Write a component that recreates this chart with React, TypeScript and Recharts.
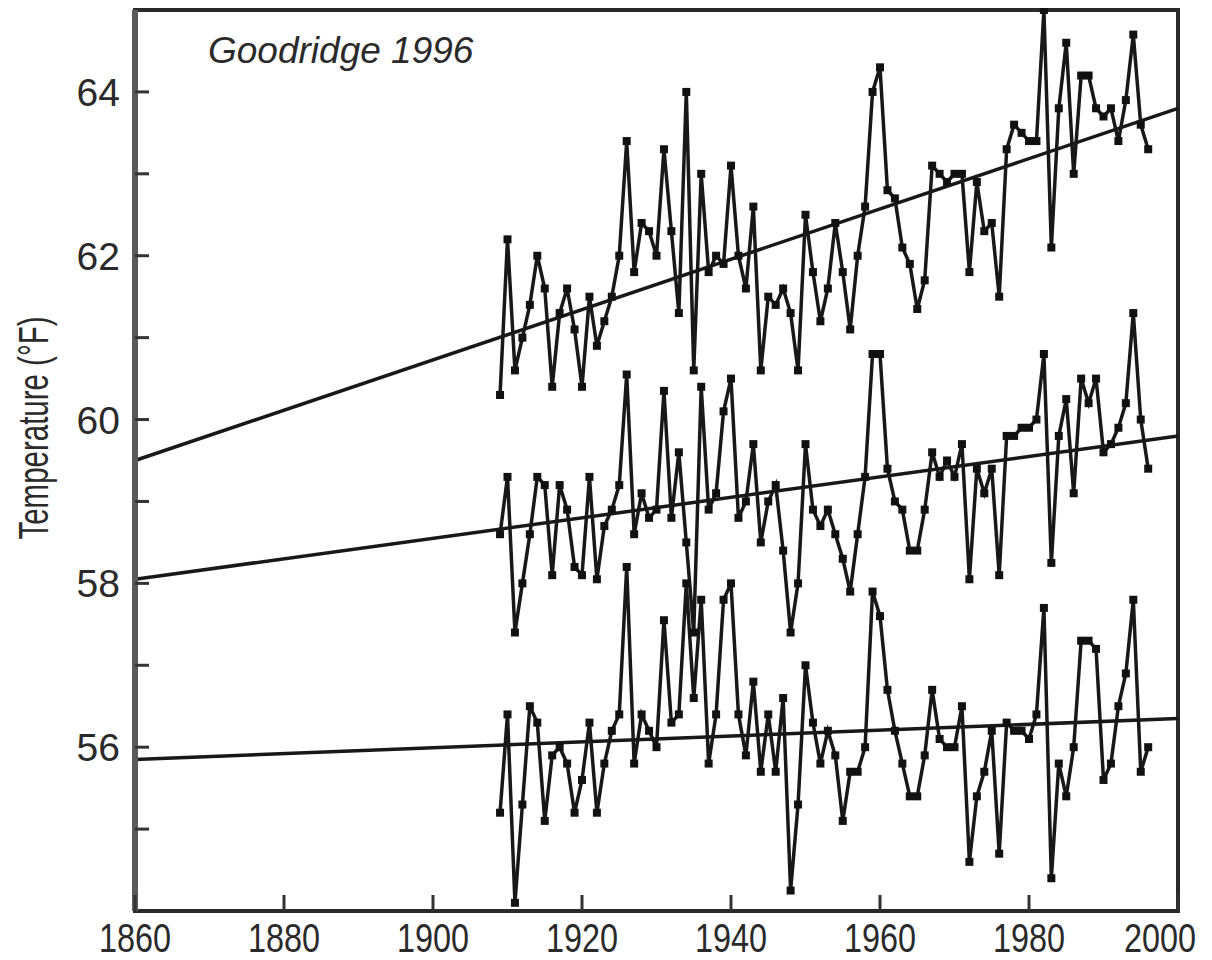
import { LineChart, Line, XAxis, YAxis, ReferenceArea } from "recharts"

const years = [
  1909, 1910, 1911, 1912, 1913, 1914, 1915, 1916, 1917, 1918,
  1919, 1920, 1921, 1922, 1923, 1924, 1925, 1926, 1927, 1928,
  1929, 1930, 1931, 1932, 1933, 1934, 1935, 1936, 1937, 1938,
  1939, 1940, 1941, 1942, 1943, 1944, 1945, 1946, 1947, 1948,
  1949, 1950, 1951, 1952, 1953, 1954, 1955, 1956, 1957, 1958,
  1959, 1960, 1961, 1962, 1963, 1964, 1965, 1966, 1967, 1968,
  1969, 1970, 1971, 1972, 1973, 1974, 1975, 1976, 1977, 1978,
  1979, 1980, 1981, 1982, 1983, 1984, 1985, 1986, 1987, 1988,
  1989, 1990, 1991, 1992, 1993, 1994, 1995, 1996,
]

const upperTemps = [
  60.3, 62.2, 60.6, 61.0, 61.4, 62.0, 61.6, 60.4, 61.3, 61.6,
  61.1, 60.4, 61.5, 60.9, 61.2, 61.5, 62.0, 63.4, 61.8, 62.4,
  62.3, 62.0, 63.3, 62.3, 61.3, 64.0, 60.6, 63.0, 61.8, 62.0,
  61.9, 63.1, 62.0, 61.6, 62.6, 60.6, 61.5, 61.4, 61.6, 61.3,
  60.6, 62.5, 61.8, 61.2, 61.6, 62.4, 61.8, 61.1, 62.0, 62.6,
  64.0, 64.3, 62.8, 62.7, 62.1, 61.9, 61.35, 61.7, 63.1, 63.0,
  62.9, 63.0, 63.0, 61.8, 62.9, 62.3, 62.4, 61.5, 63.3, 63.6,
  63.5, 63.4, 63.4, 65.0, 62.1, 63.8, 64.6, 63.0, 64.2, 64.2,
  63.8, 63.7, 63.8, 63.4, 63.9, 64.7, 63.6, 63.3,
]

const middleTemps = [
  58.6, 59.3, 57.4, 58.0, 58.6, 59.3, 59.2, 58.1, 59.2, 58.9,
  58.2, 58.1, 59.3, 58.05, 58.7, 58.9, 59.2, 60.55, 58.6, 59.1,
  58.8, 58.9, 60.35, 58.8, 59.6, 58.5, 57.4, 60.4, 58.9, 59.1,
  60.1, 60.5, 58.8, 59.0, 59.7, 58.5, 59.0, 59.2, 58.4, 57.4,
  58.0, 59.7, 58.9, 58.7, 58.9, 58.6, 58.3, 57.9, 58.6, 59.3,
  60.8, 60.8, 59.4, 59.0, 58.9, 58.4, 58.4, 58.9, 59.6, 59.3,
  59.5, 59.3, 59.7, 58.05, 59.4, 59.1, 59.4, 58.1, 59.8, 59.8,
  59.9, 59.9, 60.0, 60.8, 58.25, 59.8, 60.25, 59.1, 60.5, 60.2,
  60.5, 59.6, 59.7, 59.9, 60.2, 61.3, 60.0, 59.4,
]

const lowerTemps = [
  55.2, 56.4, 54.1, 55.3, 56.5, 56.3, 55.1, 55.9, 56.0, 55.8,
  55.2, 55.6, 56.3, 55.2, 55.8, 56.2, 56.4, 58.2, 55.8, 56.4,
  56.2, 56.0, 57.55, 56.3, 56.4, 58.0, 56.6, 57.8, 55.8, 56.4,
  57.8, 58.0, 56.4, 55.9, 56.8, 55.7, 56.4, 55.7, 56.6, 54.25,
  55.3, 57.0, 56.3, 55.8, 56.2, 55.9, 55.1, 55.7, 55.7, 56.0,
  57.9, 57.6, 56.7, 56.2, 55.8, 55.4, 55.4, 55.9, 56.7, 56.1,
  56.0, 56.0, 56.5, 54.6, 55.4, 55.7, 56.2, 54.7, 56.3, 56.2,
  56.2, 56.1, 56.4, 57.7, 54.4, 55.8, 55.4, 56.0, 57.3, 57.3,
  57.2, 55.6, 55.8, 56.5, 56.9, 57.8, 55.7, 56.0,
]

// straight fitted trends, drawn across the full time axis
const trendYears = [1860, 2000]
const upperTrend = [59.5, 63.8]
const middleTrend = [58.05, 59.8]
const lowerTrend = [55.85, 56.35]

const xTicks = [1860, 1880, 1900, 1920, 1940, 1960, 1980, 2000]
const yTicks = [55, 56, 57, 58, 59, 60, 61, 62, 63, 64]

const rows = years.map((year, i) => ({
  year,
  upper: upperTemps[i],
  middle: middleTemps[i],
  lower: lowerTemps[i],
}))

const trendRows = trendYears.map((year, i) => ({
  year,
  upper: upperTrend[i],
  middle: middleTrend[i],
  lower: lowerTrend[i],
}))

const ink = "#181818"
const sans = "'Liberation Sans', Arial, sans-serif"

const SquareDot = (props: any) => {
  const { cx, cy, index } = props
  if (cx == null || cy == null) return null
  return <rect key={index} x={cx - 4} y={cy - 4} width={8} height={8} fill="#111" />
}

const XTick = ({ x, y, payload }: any) => {
  // keep the last year label inside the right edge
  const isLast = payload.value === xTicks[xTicks.length - 1]
  return (
    <g>
      <line x1={x} x2={x} y1={y} y2={y - 16} stroke="#333" strokeWidth={3} />
      <text
        x={isLast ? x + 18 : x}
        y={y + 41}
        textAnchor={isLast ? "end" : "middle"}
        fontFamily={sans}
        fontSize={40}
        textLength={72}
        lengthAdjust="spacingAndGlyphs"
        fill="#2a2a2a"
      >
        {payload.value}
      </text>
    </g>
  )
}

const YTick = ({ x, y, payload }: any) => (
  <g>
    <line x1={x} x2={x + 14} y1={y} y2={y} stroke="#333" strokeWidth={3} />
    {payload.value % 2 === 0 && (
      <text
        x={x - 15}
        y={y + 14}
        textAnchor="end"
        fontFamily={sans}
        fontSize={39}
        fill="#2a2a2a"
      >
        {payload.value}
      </text>
    )}
  </g>
)

const YLabel = () => (
  <text
    x={40}
    y={420}
    transform="rotate(-90 40 420)"
    textAnchor="middle"
    fontFamily={sans}
    fontSize={43}
    textLength={223}
    lengthAdjust="spacingAndGlyphs"
    fill="#2a2a2a"
  >
    Temperature (°F)
  </text>
)

export default function App() {
  return (
    <LineChart
      width={1204}
      height={952}
      data={rows}
      margin={{ top: 2, right: 34, bottom: 0, left: 0 }}
    >
      <XAxis
        type="number"
        dataKey="year"
        domain={[1860, 2000]}
        ticks={xTicks}
        tick={<XTick />}
        tickSize={0}
        tickMargin={0}
        height={49}
        axisLine={{ stroke: "#2a2a2a", strokeWidth: 4 }}
        interval={0}
      />
      <YAxis
        type="number"
        domain={[54, 65]}
        ticks={yTicks}
        tick={<YTick />}
        tickSize={0}
        tickMargin={0}
        width={127}
        axisLine={{ stroke: "#5a5a5a", strokeWidth: 6 }}
        interval={0}
        label={{ content: () => <YLabel /> }}
      />
      <ReferenceArea
        x1={1860}
        x2={2000}
        y1={54}
        y2={65}
        fill="none"
        stroke="#2a2a2a"
        strokeWidth={4}
      />

      <Line data={trendRows} dataKey="upper" stroke={ink} strokeWidth={3.5} dot={false} isAnimationActive={false} />
      <Line data={trendRows} dataKey="middle" stroke={ink} strokeWidth={3.5} dot={false} isAnimationActive={false} />
      <Line data={trendRows} dataKey="lower" stroke={ink} strokeWidth={3.5} dot={false} isAnimationActive={false} />

      <Line dataKey="upper" stroke={ink} strokeWidth={3.5} dot={<SquareDot />} isAnimationActive={false} />
      <Line dataKey="middle" stroke={ink} strokeWidth={3.5} dot={<SquareDot />} isAnimationActive={false} />
      <Line dataKey="lower" stroke={ink} strokeWidth={3.5} dot={<SquareDot />} isAnimationActive={false} />

      <text
        x={200}
        y={55}
        fontFamily={sans}
        fontStyle="italic"
        fontSize={37}
        fill="#2a2a2a"
      >
        Goodridge 1996
      </text>
    </LineChart>
  )
}
